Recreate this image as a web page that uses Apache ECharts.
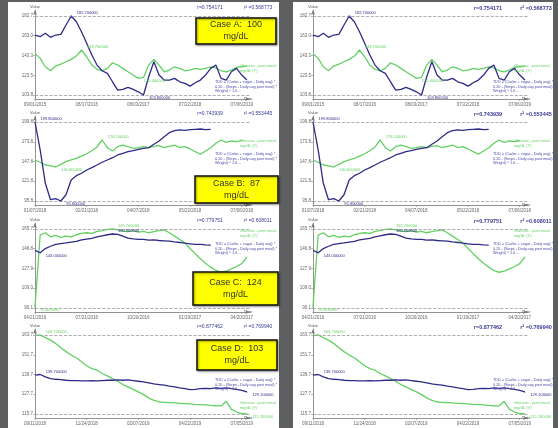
<!DOCTYPE html>
<html>
<head>
<meta charset="utf-8">
<script src="https://cdn.jsdelivr.net/npm/echarts@6/dist/echarts.min.js"></script>
<style>
html, body { margin: 0; padding: 0; background: #5e5f61; }
#chart { width: 558px; height: 428px; filter: blur(0.35px); }
</style>
</head>
<body>
<div id="chart"></div>
<script>
// x positions (0 = first date label, 100 = last date label)
const xs = [0, 2.5, 5, 7.5, 10, 12.5, 15, 17.5, 20, 22.5, 25, 27.5, 30, 32.5, 35, 37.5, 40, 42.5, 45, 47.5,
  50, 52.5, 55, 57.5, 60, 62.5, 65, 67.5, 70, 72.5, 75, 77.5, 80, 82.5, 85, 87.5, 90, 92.5, 95, 97.5, 100, 102.5];
const xTickPos = [0, 25, 50, 75, 100];

// Case A
const datesA = ['09/01/2015', '08/17/2016', '08/03/2017', '07/22/2018', '07/06/2019'];
const yTicksA = [103.8, 123.5, 143.3, 163.0, 182.7];
const blueA = [163.7, 162.0, 165.4, 161.4, 163.7, 164.4, 173.7, 182.7, 177.0, 167.0, 155.4, 143.7, 133.7, 128.0,
  125.4, 117.0, 108.7, 109.4, 111.4, 109.4, 107.0, 103.8, 122.0, 137.0, 123.7, 118.7, 118.7, 120.4, 117.0, 115.4,
  112.7, 116.0, 118.7, 123.7, 130.4, 133.7, 120.4, 118.7, 127.0, 130.4, 123.7, 118.7];
const greenA = [145.4, 140.4, 132.0, 128.0, 132.7, 134.7, 137.0, 139.4, 142.7, 148.7, 142.0, 133.7, 129.4, 128.0,
  130.4, 136.0, 133.7, 130.4, 127.0, 123.7, 120.4, 121.4, 133.7, 139.4, 133.7, 127.0, 128.7, 132.0, 130.4, 128.0,
  128.7, 130.4, 129.4, 130.4, 132.0, 131.0, 128.0, 127.0, 128.7, 131.4, 132.0, 132.7];

// Case B
const datesB = ['01/07/2018', '02/21/2018', '04/07/2018', '05/22/2018', '07/06/2018'];
const yTicksB = [95.8, 121.8, 147.8, 173.8, 199.8];
const blueB = [199.8, 163.0, 119.1, 97.5, 99.0, 95.8, 104.0, 123.5, 129.1, 132.3, 136.6, 139.7, 143.2, 146.8,
  149.8, 152.8, 156.4, 158.6, 160.7, 162.0, 163.9, 165.2, 166.0, 170.5, 174.8, 180.5, 185.7, 188.4, 189.3, 188.9,
  189.7, 190.2, 190.6, 189.7, 190.2];
const greenB = [149.8, 146.8, 143.2, 141.9, 140.6, 144.1, 147.6, 150.0, 152.0, 155.0, 158.0, 162.0, 167.0, 176.1,
  166.0, 161.6, 167.3, 169.5, 167.3, 165.2, 166.0, 167.3, 166.0, 167.8, 168.6, 166.0, 167.8, 169.5, 166.0, 167.3,
  164.3, 160.7, 157.3, 161.6, 166.0, 171.8, 176.1, 173.1, 174.8, 173.9, 175.7];

// Case C
const datesC = ['04/21/2016', '07/21/2016', '10/20/2016', '01/19/2017', '04/20/2017'];
const yTicksC = [90.1, 109.0, 127.9, 146.8, 165.7];
const blueC = [145.3, 143.0, 147.0, 149.2, 150.9, 151.8, 152.4, 153.1, 153.8, 155.3, 156.0, 156.7, 158.2, 159.2,
  160.2, 160.9, 160.6, 158.9, 157.0, 156.3, 155.7, 155.7, 155.0, 155.3, 154.7, 154.4, 154.1, 153.4, 152.8, 152.1,
  151.5, 150.9, 150.9, 150.5, 150.2];
const greenC = [91.0, 159.9, 162.1, 158.2, 159.6, 157.7, 158.9, 158.2, 160.2, 161.5, 162.1, 161.5, 163.5, 164.1,
  165.4, 165.7, 164.8, 163.8, 163.1, 164.1, 162.8, 163.5, 162.1, 163.1, 164.1, 164.8, 162.1, 158.9, 155.7, 152.4,
  147.0, 142.1, 137.3, 133.0, 129.2, 126.0, 124.3, 125.3, 127.6, 129.8, 132.5, 138.9];

// Case D
const datesD = ['09/11/2018', '11/24/2018', '02/07/2019', '04/22/2019', '07/05/2019'];
const yTicksD = [115.7, 127.7, 139.7, 151.7, 163.7];
const blueD = [139.3, 139.7, 138.3, 137.2, 136.8, 136.6, 136.2, 136.0, 136.0, 135.8, 135.8, 136.0, 135.8, 136.0,
  136.2, 136.2, 136.4, 136.2, 136.4, 136.0, 135.6, 135.2, 134.6, 134.0, 133.6, 133.2, 132.6, 132.2, 131.6, 131.1,
  130.5, 130.7, 131.1, 131.3, 131.1, 131.6, 131.3, 131.6, 131.1, 130.7, 130.1, 129.1];
const greenD = [163.3, 163.7, 162.1, 160.6, 158.6, 156.0, 153.6, 151.5, 149.9, 147.4, 145.0, 143.3, 142.3, 140.3,
  138.9, 137.2, 135.6, 133.6, 132.2, 130.7, 129.1, 127.5, 125.5, 124.0, 123.0, 122.8, 122.6, 122.4, 122.2, 122.0,
  121.8, 121.5, 121.4, 121.2, 120.9, 120.7, 120.6, 123.4, 118.5, 116.9, 116.0, 115.7];

const caseLabels = ['Case A:  100', 'Case B:  87', 'Case C:  124', 'Case D:  103'];
const rValues = ['0.754171', '0.743939', '0.779751', '0.877462'];
const r2Values = ['0.568773', '0.553445', '0.608011', '0.769940'];

const cases = [
  { dates: datesA, ticks: yTicksA, blue: blueA, green: greenA },
  { dates: datesB, ticks: yTicksB, blue: blueB, green: greenB },
  { dates: datesC, ticks: yTicksC, blue: blueC, green: greenC },
  { dates: datesD, ticks: yTicksD, blue: blueD, green: greenD }
];

// layout
const panelOff = [0, 106, 213, 319];
const colAxisX = [35, 313];
const colLeft = [8, 293];
const colRight = [279, 553];
const boxes = [[196, 18, 80, 26], [195, 70, 83, 27], [193, 59, 85, 33], [197, 21, 80, 30]];
const annotY = [[63, 80], [32, 46], [15, 29], [81, 59]];

const BLUE = '#2e2b87';
const GREEN = '#63d063';
const greenNote = 'Glucose - post meal\nmg/dL (Y)';
const blueNote = 'TDD = (Carbs + sugar - Daily avg) *\n0.20 - (Steps - Daily avg post meal) *\nWeight) ^ 1.0 ...';

const grids = [], xAxes = [], yAxes = [], series = [], graphics = [];

for (let c = 0; c < 2; c++) {
  graphics.push({
    type: 'rect', z: -10,
    shape: { x: colLeft[c], y: 2, width: colRight[c] - colLeft[c], height: 426 },
    style: { fill: '#ffffff' }
  });
}

for (let c = 0; c < 2; c++) {
  for (let p = 0; p < 4; p++) {
    const idx = grids.length;
    const cs = cases[p];
    const off = panelOff[p];
    const ax = colAxisX[c];
    const top = cs.ticks[4], bot = cs.ticks[0], span = top - bot;

    grids.push({ left: ax, top: 10 + off, width: 215, height: 89 });

    xAxes.push({
      gridIndex: idx, type: 'value', min: 0, max: 104,
      name: 'Date', nameLocation: 'end', nameGap: -6,
      nameTextStyle: { fontSize: 4, color: '#555', padding: [10, 0, 0, 0] },
      axisLine: { lineStyle: { color: '#777', width: 0.8 }, symbol: ['none', 'arrow'], symbolSize: [3, 5] },
      axisTick: { customValues: xTickPos, length: 2, lineStyle: { color: '#888', width: 0.6 } },
      axisLabel: {
        customValues: xTickPos, fontSize: 4.5, color: '#666', margin: 3,
        formatter: v => cs.dates[Math.round(v / 25)]
      },
      splitLine: { show: false }
    });

    yAxes.push({
      gridIndex: idx, type: 'value',
      min: bot - span * 4 / 79, max: top + span * 6 / 79,
      name: 'Value', nameLocation: 'end', nameGap: 1,
      nameTextStyle: { fontSize: 4, color: '#555' },
      axisLine: { show: true, lineStyle: { color: '#777', width: 0.8 }, symbol: ['none', 'arrow'], symbolSize: [3, 5] },
      axisTick: { show: true, customValues: cs.ticks, length: 2, lineStyle: { color: '#888', width: 0.6 } },
      axisLabel: {
        customValues: cs.ticks, fontSize: 4.5, color: '#666', margin: 2,
        formatter: v => v.toFixed(1)
      },
      splitLine: { show: false }
    });

    const mp = color => ({
      symbol: 'circle', symbolSize: 1, itemStyle: { color: color },
      label: { fontSize: 4, color: color, formatter: pr => pr.value.toFixed(6) },
      data: [
        { type: 'max', label: { position: 'right', offset: [0, -3] } },
        { type: 'min', label: { position: 'right', offset: [0, 3] } }
      ]
    });

    series.push({
      type: 'line', xAxisIndex: idx, yAxisIndex: idx,
      data: cs.green.map((v, i) => [xs[i], v]),
      symbol: 'none', lineStyle: { color: GREEN, width: 1.3 },
      markPoint: mp(GREEN), z: 2
    });
    series.push({
      type: 'line', xAxisIndex: idx, yAxisIndex: idx,
      data: cs.blue.map((v, i) => [xs[i], v]),
      symbol: 'none', lineStyle: { color: BLUE, width: 1.3 },
      markPoint: mp(BLUE),
      markLine: {
        silent: true, symbol: 'none', label: { show: false },
        lineStyle: { type: 'dashed', color: '#9a9a9a', width: 0.8 },
        data: [{ yAxis: top }, { yAxis: bot }]
      },
      z: 3
    });

    // r / r^2
    const bold = c === 1 ? 'bold' : 'normal';
    graphics.push({
      type: 'text', z: 50, x: ax + 175, y: off + 8,
      style: { text: 'r=' + rValues[p], fontSize: c === 1 ? 5.5 : 5, fontWeight: bold, fill: '#3a3a95', align: 'center', verticalAlign: 'middle' }
    });
    graphics.push({
      type: 'text', z: 50, x: ax + 223, y: off + 8,
      style: { text: 'r\u00b2 =' + r2Values[p], fontSize: c === 1 ? 5.5 : 5, fontWeight: bold, fill: '#3a3a95', align: 'center', verticalAlign: 'middle' }
    });

    // notes at the right
    graphics.push({
      type: 'text', z: 50, x: ax + 205 - (c === 0 ? 0 : 4), y: off + annotY[p][0],
      style: { text: greenNote, fontSize: 4, fill: GREEN, lineHeight: 5 }
    });
    graphics.push({
      type: 'text', z: 50, x: ax + 180, y: off + annotY[p][1],
      style: { text: blueNote, fontSize: 3.8, fill: '#4a4aa8', lineHeight: 4.5 }
    });

    // yellow case box, left column only
    if (c === 0) {
      const b = boxes[p];
      graphics.push({
        type: 'rect', z: 100,
        shape: { x: b[0], y: off + b[1], width: b[2], height: b[3] },
        style: { fill: '#ffff00', stroke: '#111', lineWidth: 1.5, shadowBlur: 2, shadowColor: 'rgba(0,0,0,0.4)', shadowOffsetX: 1, shadowOffsetY: 1 }
      });
      graphics.push({
        type: 'text', z: 101, x: b[0] + b[2] / 2, y: off + b[1] + b[3] / 2,
        style: {
          text: caseLabels[p] + '\nmg/dL', fontSize: 9, lineHeight: 12, fill: '#333',
          fontFamily: 'Liberation Sans, Arial, sans-serif', align: 'center', verticalAlign: 'middle'
        }
      });
    }
  }
}

const chart = echarts.init(document.getElementById('chart'));
chart.setOption({
  backgroundColor: '#5e5f61',
  animation: false,
  textStyle: { fontFamily: 'Liberation Sans, Arial, sans-serif' },
  grid: grids,
  xAxis: xAxes,
  yAxis: yAxes,
  series: series,
  graphic: graphics
});
window.addEventListener('resize', () => chart.resize());
</script>
</body>
</html>
